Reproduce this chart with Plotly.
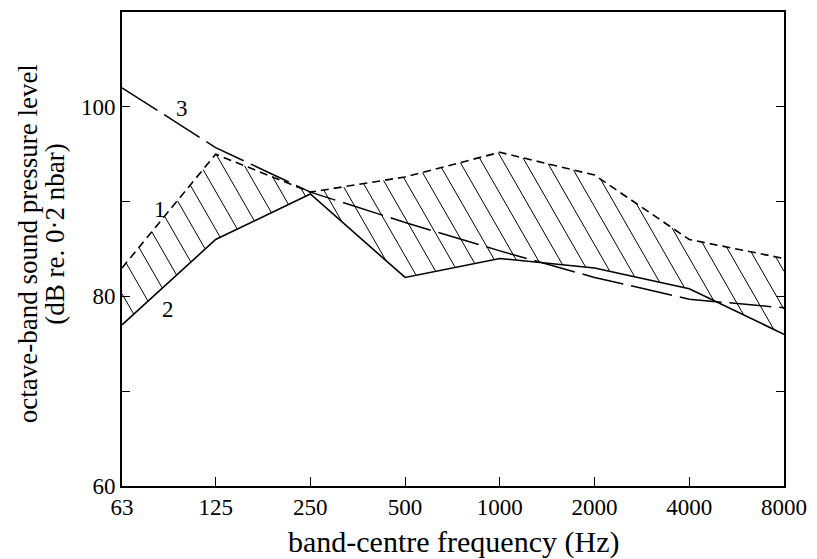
import math
import numpy as np
import plotly.graph_objects as go

freqs = [63, 125, 250, 500, 1000, 2000, 4000, 8000]
tick_labels = ["63", "125", "250", "500", "1000", "2000", "4000", "8000"]
curve1 = [83, 95, 91, 92.6, 95.2, 92.8, 86, 84]
curve2 = [77, 86, 90.8, 82, 84, 83, 80.8, 76]
curve3 = [102, 95.7, 91, 87.8, 84.8, 82, 79.7, 78.8]

y_ticks = [60, 70, 80, 90, 100]
y_tick_text = ["60", "", "80", "", "100"]

curve_labels = ["1", "2", "3"]
label_x = [83, 88, 98]
label_y = [89.2, 78.6, 99.8]

x_title = "band-centre frequency (Hz)"
y_title_lines = ["octave-band sound pressure level", "(dB re. 0·2 nbar)"]

FONT = "Liberation Serif"
W, H = 817, 559
ML, MR, MT, MB = 122, 26, 10, 73
PW, PH = W - ML - MR, H - MT - MB
Y0, Y1 = 60, 110
LX0, LX1 = math.log10(63), math.log10(8000)

# hatching between curve 2 (lower) and curve 1 (upper), computed in screen-like units
kx = PW / (LX1 - LX0)
ky = PH / (Y1 - Y0)
lf = np.log10(freqs)
U = np.linspace(0, PW, 3000)
top = np.interp(U, (lf - LX0) * kx, np.array(curve1) * ky)
bot = np.interp(U, (lf - LX0) * kx, np.array(curve2) * ky)
theta = math.radians(60)
spacing = 22.0
hx, hy = [], []
c = -400.0
while c < PW + 800:
    v = (c - U) * math.tan(theta) + Y0 * ky + 200
    inside = (v <= top + 1e-9) & (v >= bot - 1e-9)
    idx = np.where(inside)[0]
    if idx.size:
        runs = np.split(idx, np.where(np.diff(idx) > 1)[0] + 1)
        for r in runs:
            if r.size < 2:
                continue
            for j in (r[0], r[-1]):
                hx.append(10 ** (U[j] / kx + LX0))
                hy.append(v[j] / ky)
            hx.append(None)
            hy.append(None)
    c += spacing

fig = go.Figure()
fig.add_trace(go.Scatter(x=hx, y=hy, mode="lines", line=dict(color="black", width=1.0),
                         showlegend=False, hoverinfo="skip"))
fig.add_trace(go.Scatter(x=freqs, y=curve2, mode="lines",
                         line=dict(color="black", width=1.6), showlegend=False))
fig.add_trace(go.Scatter(x=freqs, y=curve1, mode="lines",
                         line=dict(color="black", width=1.6, dash="8px,5px"), showlegend=False))
fig.add_trace(go.Scatter(x=freqs, y=curve3, mode="lines",
                         line=dict(color="black", width=1.5, dash="42px,8px"), showlegend=False))

for t, xv, yv in zip(curve_labels, label_x, label_y):
    fig.add_annotation(x=math.log10(xv), y=yv, text=t, showarrow=False,
                       font=dict(family=FONT, size=23, color="black"))

fig.add_annotation(xref="paper", yref="paper", x=0.5, y=0, yshift=-56, text=x_title,
                   showarrow=False, xanchor="center", yanchor="middle",
                   font=dict(family=FONT, size=30, color="black"))
for line, xs, yp in zip(y_title_lines, [-94, -67], [0.51, 0.53]):
    fig.add_annotation(xref="paper", yref="paper", x=0, y=yp, xshift=xs, text=line,
                       textangle=-90, showarrow=False, xanchor="center", yanchor="middle",
                       font=dict(family=FONT, size=27, color="black"))

fig.update_layout(
    width=W, height=H,
    margin=dict(l=ML, r=MR, t=MT, b=MB),
    paper_bgcolor="white", plot_bgcolor="white",
    font=dict(family=FONT, color="black"),
)
fig.update_xaxes(
    type="log", range=[LX0, LX1],
    tickvals=freqs, ticktext=tick_labels, ticks="inside", ticklen=9, tickwidth=1.3,
    tickcolor="black", showline=True, linecolor="black", linewidth=1.6, mirror=True,
    showgrid=False, zeroline=False, tickfont=dict(family=FONT, size=23),
)
fig.update_yaxes(
    range=[Y0, Y1], tickvals=y_ticks, ticktext=y_tick_text, ticks="inside", ticklen=8,
    tickwidth=1.3, tickcolor="black", showline=True, linecolor="black", linewidth=1.6,
    mirror="ticks", showgrid=False, zeroline=False, tickfont=dict(family=FONT, size=23),
)

fig.write_html("out.html")
